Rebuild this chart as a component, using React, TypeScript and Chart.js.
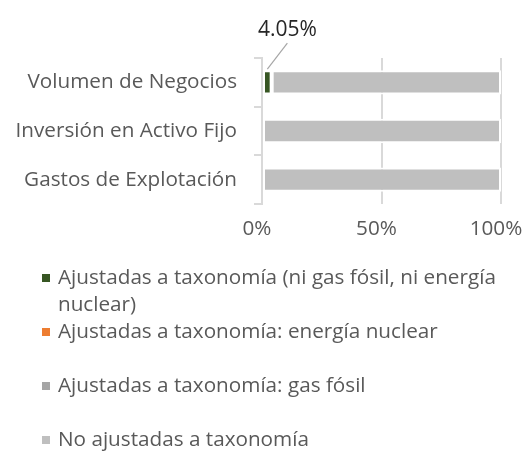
import React, { useEffect, useRef } from "react";
import { Chart, registerables } from "chart.js";

Chart.register(...registerables);

const categories = ["Volumen de Negocios", "Inversión en Activo Fijo", "Gastos de Explotación"];
const seriesLabels = [
  "Ajustadas a taxonomía (ni gas fósil, ni energía nuclear)",
  "Ajustadas a taxonomía: energía nuclear",
  "Ajustadas a taxonomía: gas fósil",
  "No ajustadas a taxonomía",
];
const seriesColors = ["#375623", "#ED7D31", "#A5A5A5", "#BFBFBF"];
const alignedOther = [4.05, 0, 0];
const alignedNuclear = [0, 0, 0];
const alignedGas = [0, 0, 0];
const notAligned = [95.95, 100, 100];
const xTicks = [0, 50, 100];
const greenLabels = ["4.05%", "", ""];

const FONT = "'Open Sans', 'DejaVu Sans', sans-serif";
const FS = 20.7;
const TEXT = "#595959";

const dataLabelPlugin = {
  id: "dataLabel",
  afterDatasetsDraw(chart: any) {
    const ctx = chart.ctx;
    const meta = chart.getDatasetMeta(0);
    meta.data.forEach((bar: any, i: number) => {
      const txt = greenLabels[i];
      if (!txt) return;
      const props = bar.getProps(["x", "y", "base", "height"], true);
      const cx = (props.x + props.base) / 2;
      const top = props.y - props.height / 2;
      ctx.save();
      ctx.strokeStyle = "#A6A6A6";
      ctx.lineWidth = 1.2;
      ctx.beginPath();
      ctx.moveTo(cx, top - 1);
      ctx.lineTo(cx + 20, top - 27);
      ctx.stroke();
      ctx.fillStyle = "#262626";
      ctx.font = `21px ${FONT}`;
      ctx.textAlign = "center";
      ctx.textBaseline = "middle";
      ctx.fillText(txt, cx + 20, top - 40);
      ctx.restore();
    });
  },
};

const legendPlugin = {
  id: "wrapLegend",
  afterDraw(chart: any) {
    const ctx = chart.ctx;
    const startY = 278;
    const pitch = 54;
    const lineH = 27;
    const textX = 58;
    const maxW = 455;
    ctx.save();
    ctx.font = `${FS}px ${FONT}`;
    ctx.textBaseline = "middle";
    ctx.textAlign = "left";
    chart.data.datasets.forEach((ds: any, i: number) => {
      const y0 = startY + i * pitch;
      ctx.fillStyle = ds.backgroundColor;
      ctx.fillRect(42, y0 - 4, 8, 8);
      const words = String(ds.label).split(" ");
      const lines: string[] = [];
      let cur = "";
      words.forEach((w) => {
        const test = cur ? cur + " " + w : w;
        if (ctx.measureText(test).width > maxW && cur) {
          lines.push(cur);
          cur = w;
        } else cur = test;
      });
      if (cur) lines.push(cur);
      ctx.fillStyle = TEXT;
      lines.forEach((l, k) => ctx.fillText(l, textX, y0 + k * lineH));
    });
    ctx.restore();
  },
};

export default function App() {
  const ref = useRef<HTMLCanvasElement | null>(null);
  useEffect(() => {
    if (!ref.current) return;
    const seriesData = [alignedOther, alignedNuclear, alignedGas, notAligned];
    const chart = new Chart(ref.current, {
      type: "bar",
      data: {
        labels: categories,
        datasets: seriesData.map((d, i) => ({
          label: seriesLabels[i],
          data: d,
          backgroundColor: seriesColors[i],
          borderColor: "#FFFFFF",
          borderWidth: 2,
          borderSkipped: false,
          barPercentage: 0.5,
          categoryPercentage: 1,
        })),
      },
      options: {
        indexAxis: "y",
        responsive: false,
        animation: false,
        layout: { padding: { top: 58, right: 29, left: 0, bottom: 210 } },
        scales: {
          x: {
            stacked: true,
            min: 0,
            max: 100,
            afterBuildTicks: (s: any) => {
              s.ticks = xTicks.map((v) => ({ value: v }));
            },
            afterFit: (s: any) => {
              s.height = 37;
              s.paddingLeft = 0;
              s.paddingRight = 0;
            },
            ticks: {
              color: TEXT,
              font: { family: FONT, size: FS },
              padding: 13,
              labelOffset: -5,
              maxRotation: 0,
              callback: (v: any) => v + "%",
            },
            grid: { color: "#D9D9D9", lineWidth: 2, drawTicks: false },
            border: { display: false },
          },
          y: {
            stacked: true,
            afterFit: (s: any) => {
              s.width = 262;
              s.paddingTop = 0;
              s.paddingBottom = 0;
            },
            ticks: { color: TEXT, font: { family: FONT, size: FS }, padding: 17 },
            grid: {
              offset: true,
              drawOnChartArea: false,
              drawTicks: true,
              tickLength: 8,
              color: "#D9D9D9",
              lineWidth: 2,
            },
            border: { color: "#D9D9D9", width: 2 },
          },
        },
        plugins: { legend: { display: false }, tooltip: { enabled: false } },
      },
      plugins: [dataLabelPlugin, legendPlugin],
    } as any);
    return () => chart.destroy();
  }, []);
  return (
    <div style={{ position: "absolute", left: 0, top: 0, width: 530, height: 451, background: "#fff" }}>
      <canvas ref={ref} width={530} height={451} />
    </div>
  );
}
